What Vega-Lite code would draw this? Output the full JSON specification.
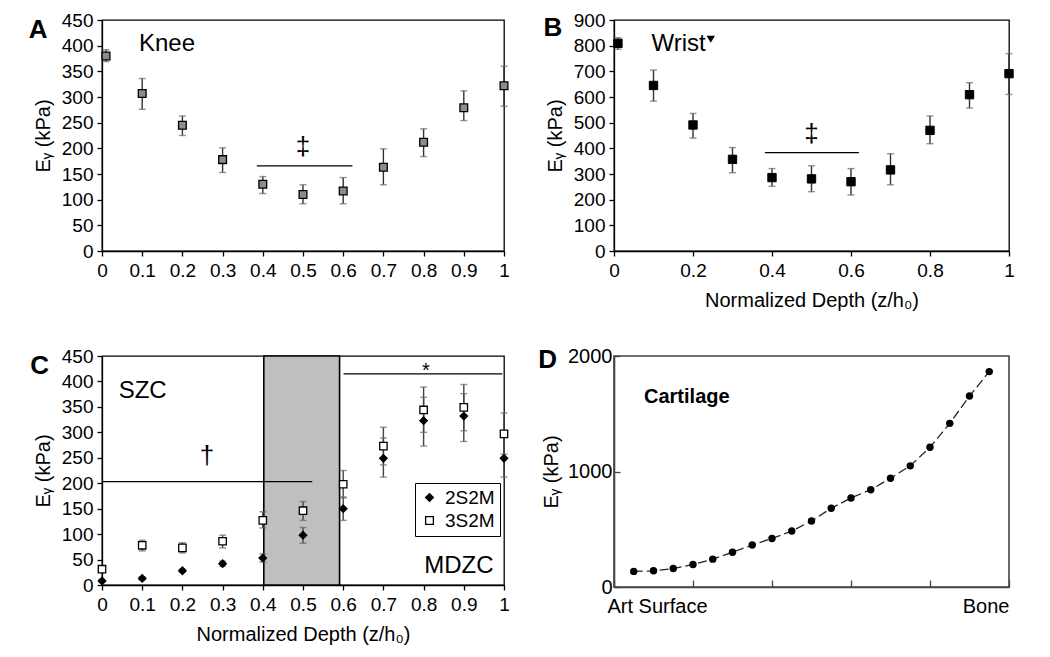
{
  "$schema": "https://vega.github.io/schema/vega-lite/v6.json",
  "background": "white",
  "padding": {"left": 27, "top": 10, "right": 0, "bottom": 0},
  "bounds": "flush",
  "align": "all",
  "columns": 2,
  "spacing": {"row": 105, "column": 110},
  "config": {
    "font": "Liberation Sans",
    "view": {"stroke": "black", "strokeWidth": 1.3},
    "axis": {"domainColor": "black", "domainWidth": 1.3, "tickColor": "black", "tickWidth": 1.3, "tickSize": 5, "labelColor": "black", "titleColor": "black", "labelFontSize": 19, "titleFontSize": 20, "titleFontWeight": "normal", "labelPadding": 4, "grid": false, "labelOverlap": false},
    "axisY": {"labelOverlap": false, "labelSeparation": -30, "tickCount": 10},
    "text": {"color": "black", "font": "Liberation Sans"}
  },
  "concat": [
    {
      "width": 402, "height": 231,
      "data": {"values": [
        {"x": 0.01, "y": 380, "lo": 369, "hi": 392},
        {"x": 0.1, "y": 307, "lo": 276, "hi": 336},
        {"x": 0.2, "y": 245, "lo": 225, "hi": 263},
        {"x": 0.3, "y": 178, "lo": 153, "hi": 201},
        {"x": 0.4, "y": 130, "lo": 112, "hi": 145},
        {"x": 0.5, "y": 110, "lo": 92, "hi": 129},
        {"x": 0.6, "y": 117, "lo": 92, "hi": 143},
        {"x": 0.7, "y": 163, "lo": 129, "hi": 199},
        {"x": 0.8, "y": 212, "lo": 184, "hi": 238},
        {"x": 0.9, "y": 279, "lo": 254, "hi": 312},
        {"x": 1, "y": 322, "lo": 282, "hi": 360}
      ]},
      "layer": [
        {
          "mark": {"type": "rule", "color": "#333", "strokeWidth": 1.4},
          "encoding": {
            "x": {"field": "x", "type": "quantitative", "scale": {"domain": [0, 1], "nice": false, "zero": false}, "axis": {"values": [0, 0.1, 0.2, 0.3, 0.4, 0.5, 0.6, 0.7, 0.8, 0.9, 1], "format": "~g", "title": null, "labelPadding": 5, "labelOverlap": false, "labelFlush": false}},
            "y": {"field": "lo", "type": "quantitative", "scale": {"domain": [0, 450], "nice": false}, "axis": {"values": [0, 50, 100, 150, 200, 250, 300, 350, 400, 450], "tickCount": 10, "title": "Eᵧ (kPa)", "titlePadding": 8, "labelOverlap": false, "labelSeparation": -30, "labelFlush": false}},
            "y2": {"field": "hi"}
          }
        },
        {"mark": {"type": "tick", "orient": "horizontal", "color": "#666", "size": 7, "thickness": 1.4}, "encoding": {"x": {"field": "x", "type": "quantitative"}, "y": {"field": "lo", "type": "quantitative"}}},
        {"mark": {"type": "tick", "orient": "horizontal", "color": "#666", "size": 7, "thickness": 1.4}, "encoding": {"x": {"field": "x", "type": "quantitative"}, "y": {"field": "hi", "type": "quantitative"}}},
        {"mark": {"type": "point", "shape": "square", "filled": true, "fill": "#8c8c8c", "stroke": "black", "strokeWidth": 1.3, "size": 60, "opacity": 1}, "encoding": {"x": {"field": "x", "type": "quantitative"}, "y": {"field": "y", "type": "quantitative"}}},
        {"data": {"values": [{}]}, "mark": {"type": "rule", "color": "black", "strokeWidth": 1.3}, "encoding": {"x": {"datum": 0.385}, "x2": {"datum": 0.623}, "y": {"datum": 166}}},
        {"data": {"values": [{}]}, "mark": {"type": "text", "fontSize": 26, "baseline": "middle", "align": "center"}, "encoding": {"x": {"datum": 0.5}, "y": {"datum": 203}, "text": {"value": "‡"}}},
        {"data": {"values": [{}]}, "mark": {"type": "text", "fontSize": 24, "baseline": "alphabetic", "align": "left"}, "encoding": {"x": {"datum": 0.092}, "y": {"datum": 390}, "text": {"value": "Knee"}}},
        {"data": {"values": [{}]}, "mark": {"type": "text", "fontSize": 26, "fontWeight": "bold", "baseline": "alphabetic", "align": "left"}, "encoding": {"x": {"datum": -0.1825}, "y": {"datum": 415}, "text": {"value": "A"}}}
      ]
    },
    {
      "width": 395, "height": 231,
      "data": {"values": [
        {"x": 0.01, "y": 809, "lo": 786, "hi": 831},
        {"x": 0.1, "y": 645, "lo": 584, "hi": 705},
        {"x": 0.2, "y": 491, "lo": 440, "hi": 536},
        {"x": 0.3, "y": 357, "lo": 305, "hi": 403},
        {"x": 0.4, "y": 286, "lo": 252, "hi": 321},
        {"x": 0.5, "y": 281, "lo": 231, "hi": 332},
        {"x": 0.6, "y": 270, "lo": 218, "hi": 321},
        {"x": 0.7, "y": 316, "lo": 258, "hi": 379},
        {"x": 0.8, "y": 470, "lo": 418, "hi": 526},
        {"x": 0.9, "y": 609, "lo": 557, "hi": 656},
        {"x": 1, "y": 691, "lo": 610, "hi": 769}
      ]},
      "layer": [
        {
          "mark": {"type": "rule", "color": "#333", "strokeWidth": 1.4},
          "encoding": {
            "x": {"field": "x", "type": "quantitative", "scale": {"domain": [0, 1], "nice": false, "zero": false}, "axis": {"values": [0, 0.1, 0.2, 0.3, 0.4, 0.5, 0.6, 0.7, 0.8, 0.9, 1], "format": "~g", "title": "Normalized Depth (z/h₀)", "labelPadding": 5, "titlePadding": 10, "labelOverlap": false, "labelFlush": false}},
            "y": {"field": "lo", "type": "quantitative", "scale": {"domain": [0, 900], "nice": false}, "axis": {"values": [0, 100, 200, 300, 400, 500, 600, 700, 800, 900], "tickCount": 10, "title": "Eᵧ (kPa)", "titlePadding": 8, "labelOverlap": false, "labelSeparation": -30, "labelFlush": false}},
            "y2": {"field": "hi"}
          }
        },
        {"mark": {"type": "tick", "orient": "horizontal", "color": "#666", "size": 7, "thickness": 1.4}, "encoding": {"x": {"field": "x", "type": "quantitative"}, "y": {"field": "lo", "type": "quantitative"}}},
        {"mark": {"type": "tick", "orient": "horizontal", "color": "#666", "size": 7, "thickness": 1.4}, "encoding": {"x": {"field": "x", "type": "quantitative"}, "y": {"field": "hi", "type": "quantitative"}}},
        {"mark": {"type": "point", "shape": "square", "filled": true, "fill": "black", "stroke": "black", "strokeWidth": 1, "size": 70, "opacity": 1}, "encoding": {"x": {"field": "x", "type": "quantitative"}, "y": {"field": "y", "type": "quantitative"}}},
        {"data": {"values": [{}]}, "mark": {"type": "rule", "color": "black", "strokeWidth": 1.3}, "encoding": {"x": {"datum": 0.382}, "x2": {"datum": 0.62}, "y": {"datum": 383}}},
        {"data": {"values": [{}]}, "mark": {"type": "text", "fontSize": 26, "baseline": "middle", "align": "center"}, "encoding": {"x": {"datum": 0.5}, "y": {"datum": 455}, "text": {"value": "‡"}}},
        {"data": {"values": [{}]}, "mark": {"type": "text", "fontSize": 24, "baseline": "alphabetic", "align": "left"}, "encoding": {"x": {"datum": 0.095}, "y": {"datum": 779}, "text": {"value": "Wrist"}}},
        {"data": {"values": [{}]}, "mark": {"type": "point", "shape": "triangle-down", "filled": true, "color": "black", "size": 70, "opacity": 1}, "encoding": {"x": {"datum": 0.245}, "y": {"datum": 825}}},
        {"data": {"values": [{}]}, "mark": {"type": "text", "fontSize": 26, "fontWeight": "bold", "baseline": "alphabetic", "align": "left"}, "encoding": {"x": {"datum": -0.1786}, "y": {"datum": 838}, "text": {"value": "B"}}}
      ]
    },
    {
      "width": 402, "height": 229,
      "data": {"values": [
        {"series": "2S2M", "x": 0, "y": 8, "lo": 5, "hi": 11},
        {"series": "2S2M", "x": 0.1, "y": 13, "lo": 10, "hi": 16},
        {"series": "2S2M", "x": 0.2, "y": 28, "lo": 25, "hi": 31},
        {"series": "2S2M", "x": 0.3, "y": 42, "lo": 37, "hi": 47},
        {"series": "2S2M", "x": 0.4, "y": 53, "lo": 45, "hi": 61},
        {"series": "2S2M", "x": 0.5, "y": 98, "lo": 82, "hi": 113},
        {"series": "2S2M", "x": 0.6, "y": 150, "lo": 127, "hi": 173},
        {"series": "2S2M", "x": 0.7, "y": 249, "lo": 212, "hi": 289},
        {"series": "2S2M", "x": 0.8, "y": 323, "lo": 273, "hi": 369},
        {"series": "2S2M", "x": 0.9, "y": 332, "lo": 282, "hi": 376},
        {"series": "2S2M", "x": 1, "y": 249, "lo": 212, "hi": 290},
        {"series": "3S2M", "x": 0, "y": 31, "lo": 27, "hi": 36},
        {"series": "3S2M", "x": 0.1, "y": 78, "lo": 67, "hi": 88},
        {"series": "3S2M", "x": 0.2, "y": 73, "lo": 63, "hi": 83},
        {"series": "3S2M", "x": 0.3, "y": 86, "lo": 73, "hi": 98},
        {"series": "3S2M", "x": 0.4, "y": 127, "lo": 112, "hi": 144},
        {"series": "3S2M", "x": 0.5, "y": 146, "lo": 127, "hi": 164},
        {"series": "3S2M", "x": 0.6, "y": 198, "lo": 171, "hi": 225},
        {"series": "3S2M", "x": 0.7, "y": 273, "lo": 236, "hi": 310},
        {"series": "3S2M", "x": 0.8, "y": 344, "lo": 300, "hi": 389},
        {"series": "3S2M", "x": 0.9, "y": 349, "lo": 303, "hi": 394},
        {"series": "3S2M", "x": 1, "y": 297, "lo": 257, "hi": 338}
      ]},
      "layer": [
        {"data": {"values": [{}]}, "mark": {"type": "rect", "fill": "#bfbfbf", "stroke": "black", "strokeWidth": 1.6},
         "encoding": {
           "x": {"datum": 0.4025, "type": "quantitative", "scale": {"domain": [0, 1], "nice": false, "zero": false}, "axis": {"values": [0, 0.1, 0.2, 0.3, 0.4, 0.5, 0.6, 0.7, 0.8, 0.9, 1], "format": "~g", "title": "Normalized Depth (z/h₀)", "labelPadding": 5, "titlePadding": 10, "labelOverlap": false, "labelFlush": false}},
           "x2": {"datum": 0.591},
           "y": {"datum": 0, "type": "quantitative", "scale": {"domain": [0, 450], "nice": false}, "axis": {"values": [0, 50, 100, 150, 200, 250, 300, 350, 400, 450], "tickCount": 10, "title": "Eᵧ (kPa)", "titlePadding": 8, "labelOverlap": false, "labelSeparation": -30, "labelFlush": false}},
           "y2": {"datum": 450}
         }},
        {"mark": {"type": "rule", "color": "#444", "strokeWidth": 1.4}, "encoding": {"x": {"field": "x", "type": "quantitative"}, "y": {"field": "lo", "type": "quantitative"}, "y2": {"field": "hi"}}},
        {"mark": {"type": "tick", "orient": "horizontal", "color": "#666", "size": 7, "thickness": 1.4}, "encoding": {"x": {"field": "x", "type": "quantitative"}, "y": {"field": "lo", "type": "quantitative"}}},
        {"mark": {"type": "tick", "orient": "horizontal", "color": "#666", "size": 7, "thickness": 1.4}, "encoding": {"x": {"field": "x", "type": "quantitative"}, "y": {"field": "hi", "type": "quantitative"}}},
        {"mark": {"type": "point", "filled": true, "size": 55, "opacity": 1, "strokeWidth": 1.3},
         "encoding": {
           "x": {"field": "x", "type": "quantitative"},
           "y": {"field": "y", "type": "quantitative"},
           "shape": {"field": "series", "type": "nominal", "scale": {"domain": ["2S2M", "3S2M"], "range": ["diamond", "square"]}, "legend": {"orient": "none", "legendX": 313, "legendY": 463, "title": null, "strokeColor": "black", "fillColor": "white", "padding": 5, "labelFontSize": 19, "symbolSize": 60, "symbolStrokeWidth": 1.3, "rowPadding": 3, "labelOffset": 6}},
           "fill": {"field": "series", "type": "nominal", "scale": {"domain": ["2S2M", "3S2M"], "range": ["black", "white"]}, "legend": {"orient": "none", "legendX": 313, "legendY": 463, "title": null, "strokeColor": "black", "fillColor": "white", "padding": 5, "labelFontSize": 19, "symbolSize": 60, "symbolStrokeWidth": 1.3, "rowPadding": 3, "labelOffset": 6}},
           "stroke": {"field": "series", "type": "nominal", "scale": {"domain": ["2S2M", "3S2M"], "range": ["black", "black"]}, "legend": {"orient": "none", "legendX": 313, "legendY": 463, "title": null, "strokeColor": "black", "fillColor": "white", "padding": 5, "labelFontSize": 19, "symbolSize": 60, "symbolStrokeWidth": 1.3, "rowPadding": 3, "labelOffset": 6}}
         }},
        {"data": {"values": [{}]}, "mark": {"type": "rule", "color": "black", "strokeWidth": 1.3}, "encoding": {"x": {"datum": 0}, "x2": {"datum": 0.523}, "y": {"datum": 203}}},
        {"data": {"values": [{}]}, "mark": {"type": "rule", "color": "black", "strokeWidth": 1.3}, "encoding": {"x": {"datum": 0.601}, "x2": {"datum": 0.996}, "y": {"datum": 415}}},
        {"data": {"values": [{}]}, "mark": {"type": "text", "fontSize": 26, "baseline": "middle", "align": "center"}, "encoding": {"x": {"datum": 0.261}, "y": {"datum": 254}, "text": {"value": "†"}}},
        {"data": {"values": [{}]}, "mark": {"type": "text", "fontSize": 20, "baseline": "alphabetic", "align": "center"}, "encoding": {"x": {"datum": 0.806}, "y": {"datum": 408}, "text": {"value": "*"}}},
        {"data": {"values": [{}]}, "mark": {"type": "text", "fontSize": 24, "baseline": "alphabetic", "align": "left"}, "encoding": {"x": {"datum": 0.0415}, "y": {"datum": 367}, "text": {"value": "SZC"}}},
        {"data": {"values": [{}]}, "mark": {"type": "text", "fontSize": 24, "baseline": "alphabetic", "align": "right"}, "encoding": {"x": {"datum": 0.974}, "y": {"datum": 24}, "text": {"value": "MDZC"}}},
        {"data": {"values": [{}]}, "mark": {"type": "text", "fontSize": 26, "fontWeight": "bold", "baseline": "alphabetic", "align": "left"}, "encoding": {"x": {"datum": -0.1785}, "y": {"datum": 415}, "text": {"value": "C"}}}
      ]
    },
    {
      "width": 395, "height": 231,
      "view": {"stroke": "#444", "strokeWidth": 1.6},
      "data": {"values": [
        {"x": 0.05, "y": 135}, {"x": 0.1, "y": 140}, {"x": 0.15, "y": 160}, {"x": 0.2, "y": 195},
        {"x": 0.25, "y": 241}, {"x": 0.3, "y": 301}, {"x": 0.35, "y": 364}, {"x": 0.4, "y": 420},
        {"x": 0.45, "y": 485}, {"x": 0.5, "y": 571}, {"x": 0.55, "y": 682}, {"x": 0.6, "y": 771},
        {"x": 0.65, "y": 842}, {"x": 0.7, "y": 942}, {"x": 0.75, "y": 1049}, {"x": 0.8, "y": 1210},
        {"x": 0.85, "y": 1417}, {"x": 0.9, "y": 1653}, {"x": 0.95, "y": 1865}
      ]},
      "layer": [
        {"mark": {"type": "line", "color": "#222", "strokeWidth": 1.3, "strokeDash": [9, 4]},
         "encoding": {
           "x": {"field": "x", "type": "quantitative", "scale": {"domain": [0, 1], "nice": false, "zero": false}, "axis": {"values": [0, 0.2, 0.4, 0.6, 0.8, 1], "labelExpr": "datum.value === 0 ? 'Art Surface' : (datum.value === 1 ? 'Bone' : '')", "labelFlush": true, "labelOffset": {"condition": {"test": "datum.value === 0", "value": -7}, "value": 0}, "title": null, "tickSize": -7, "labelPadding": 16, "labelFontSize": 20, "domainColor": "#444", "domainWidth": 1.6, "tickColor": "#444", "labelOverlap": false}},
           "y": {"field": "y", "type": "quantitative", "scale": {"domain": [0, 2000], "nice": false}, "axis": {"values": [0, 1000, 2000], "tickCount": 3, "format": "d", "title": "Eᵧ (kPa)", "tickSize": -6, "labelPadding": 8, "labelFontSize": 20, "titlePadding": 6, "domainColor": "#444", "domainWidth": 1.6, "tickColor": "#444", "labelOverlap": false, "labelFlush": false}}
         }},
        {"mark": {"type": "point", "shape": "circle", "filled": true, "color": "black", "size": 55, "opacity": 1}, "encoding": {"x": {"field": "x", "type": "quantitative"}, "y": {"field": "y", "type": "quantitative"}}},
        {"data": {"values": [{}]}, "mark": {"type": "text", "fontSize": 20, "fontWeight": "bold", "baseline": "alphabetic", "align": "left"}, "encoding": {"x": {"datum": 0.076}, "y": {"datum": 1596}, "text": {"value": "Cartilage"}}},
        {"data": {"values": [{}]}, "mark": {"type": "text", "fontSize": 26, "fontWeight": "bold", "baseline": "alphabetic", "align": "left"}, "encoding": {"x": {"datum": -0.192}, "y": {"datum": 1899}, "text": {"value": "D"}}}
      ]
    }
  ]
}
